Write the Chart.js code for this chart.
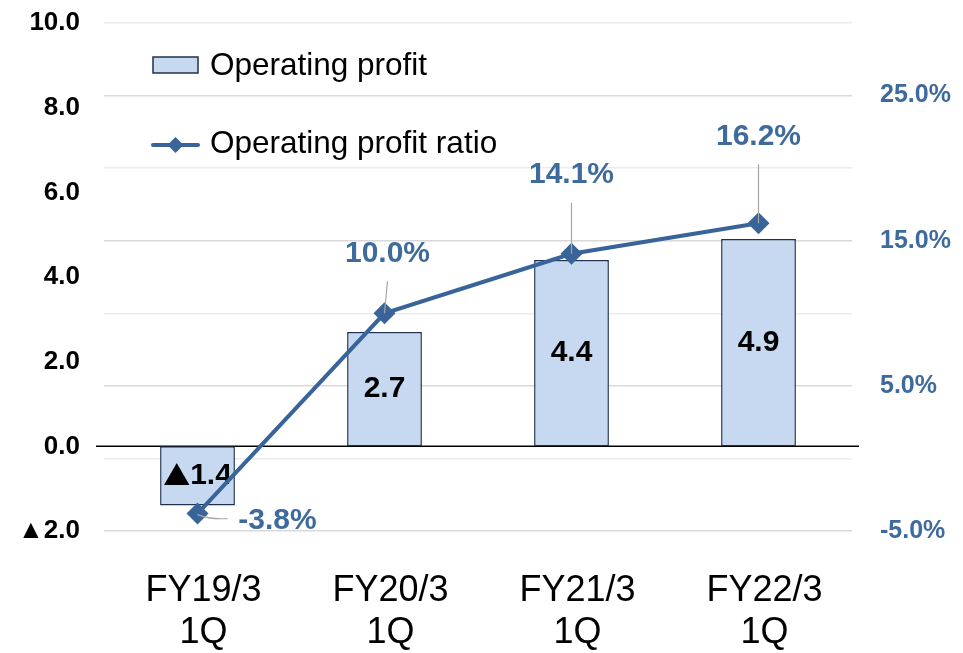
<!DOCTYPE html>
<html><head><meta charset="utf-8">
<script src="https://cdn.jsdelivr.net/npm/chart.js@4"></script>
<style>html,body{margin:0;padding:0;background:#fff;} #wrap{width:963px;height:653px;position:relative;}</style>
</head><body><div id="wrap"><canvas id="c"></canvas></div>
<script>
const categories = [['FY19/3','1Q'],['FY20/3','1Q'],['FY21/3','1Q'],['FY22/3','1Q']];
const operatingProfit = [-1.4, 2.7, 4.4, 4.9];
const operatingProfitRatio = [-3.8, 10.0, 14.1, 16.2];
const seriesNames = ['Operating profit', 'Operating profit ratio'];
const rightTickLabels = [-5, 5, 15, 25];

// label styling (offsets from point, in px)
const ratioLabelOffsets = [[80,7],[3,-60],[0,-79],[0,-87]];

const BAR_FILL = '#c6d9f0', BAR_BORDER = '#1f3050', LINE_COLOR = '#38649a', LABEL_BLUE = '#3e6a9c';
const FONT = "'Liberation Sans', Arial, sans-serif";
const TRI_FONT = "'Noto Sans CJK JP', 'DejaVu Sans', sans-serif";

function fmtTri(v){ return (v < 0 ? '\u25B2' : '') + Math.abs(v).toFixed(1); }

const zeroLine = {
  id:'zeroLine',
  beforeDatasetsDraw(chart){
    const {ctx, chartArea} = chart; const y = chart.scales.y.getPixelForValue(0);
    ctx.save(); ctx.strokeStyle = '#000'; ctx.lineWidth = 1.5;
    ctx.beginPath(); ctx.moveTo(chartArea.left - 8, y); ctx.lineTo(chartArea.right + 7, y); ctx.stroke(); ctx.restore();
  }
};

const labels = {
  id:'labels',
  afterDatasetDraw(chart, args){
    const ctx = chart.ctx;
    if (args.index === 1) { // bar dataset
      const meta = chart.getDatasetMeta(1);
      ctx.save(); ctx.fillStyle = '#000'; ctx.textBaseline = 'middle'; ctx.textAlign = 'left';
      meta.data.forEach((el, i) => {
        const v = operatingProfit[i];
        const num = Math.abs(v).toFixed(1);
        const cy = (el.y + el.base) / 2;
        ctx.font = 'bold 30px ' + FONT; const wNum = ctx.measureText(num).width;
        let wTri = 0;
        if (v < 0) { ctx.font = 'bold 27px ' + TRI_FONT; wTri = ctx.measureText('\u25B2').width; }
        let x = el.x - (wNum + wTri) / 2;
        if (v < 0) { ctx.font = 'bold 27px ' + TRI_FONT; ctx.fillText('\u25B2', x, cy); x += wTri; }
        ctx.font = 'bold 30px ' + FONT; ctx.fillText(num, x, cy);
      });
      ctx.restore();
    }
  },
  afterDatasetsDraw(chart){
    const ctx = chart.ctx; const meta = chart.getDatasetMeta(0);
    ctx.save();
    meta.data.forEach((el, i) => {
      const [dx, dy] = ratioLabelOffsets[i];
      const lx = el.x + dx, ly = el.y + dy;
      ctx.strokeStyle = '#a6a6a6'; ctx.lineWidth = 1.2;
      ctx.beginPath();
      if (dy > 0 && Math.abs(dx) > 20) {
        ctx.moveTo(el.x, el.y + 1);
        ctx.quadraticCurveTo(el.x + 12, el.y + 6, lx - 50, ly - 2);
      } else {
        ctx.moveTo(lx, ly + 28); ctx.lineTo(el.x, el.y);
      }
      ctx.stroke();
      ctx.font = 'bold 30px ' + FONT; ctx.fillStyle = LABEL_BLUE;
      ctx.textAlign = 'center'; ctx.textBaseline = 'middle';
      ctx.fillText(operatingProfitRatio[i].toFixed(1) + '%', lx, ly);
    });
    ctx.restore();
  },
  afterDraw(chart){
    const ctx = chart.ctx; ctx.save();
    // legend
    ctx.fillStyle = BAR_FILL; ctx.strokeStyle = BAR_BORDER; ctx.lineWidth = 1.5;
    ctx.fillRect(153, 57, 45, 16); ctx.strokeRect(153, 57, 45, 16);
    ctx.strokeStyle = LINE_COLOR; ctx.lineWidth = 4; ctx.lineCap = 'round';
    ctx.beginPath(); ctx.moveTo(153, 145); ctx.lineTo(198, 145); ctx.stroke();
    ctx.fillStyle = LINE_COLOR; ctx.beginPath();
    ctx.moveTo(175.5, 137); ctx.lineTo(183.5, 145); ctx.lineTo(175.5, 153); ctx.lineTo(167.5, 145); ctx.closePath(); ctx.fill();
    ctx.font = '31.5px ' + FONT; ctx.fillStyle = '#000'; ctx.textAlign = 'left'; ctx.textBaseline = 'middle';
    ctx.fillText(chart.data.datasets[1].label, 210, 66);
    ctx.fillText(chart.data.datasets[0].label, 210, 144);
    ctx.restore();
  }
};

new Chart(document.getElementById('c'), {
  data: {
    labels: categories,
    datasets: [
      { type:'line', label: seriesNames[1], data: operatingProfitRatio, yAxisID:'y1',
        borderColor: LINE_COLOR, borderWidth: 4, tension: 0,
        pointStyle:'rectRot', pointRadius: 11, pointBackgroundColor: LINE_COLOR, pointBorderWidth: 0 },
      { type:'bar', label: seriesNames[0], data: operatingProfit, yAxisID:'y',
        backgroundColor: BAR_FILL, borderColor: BAR_BORDER, borderWidth: 1.5, borderSkipped: false,
        categoryPercentage: 0.4, barPercentage: 1 }
    ]
  },
  options: {
    responsive: true, maintainAspectRatio: false, animation: false,
    layout: { padding: { top: 23, left: 0, right: 0, bottom: 0 } },
    plugins: { legend: { display: false }, tooltip: { enabled: false } },
    scales: {
      x: { grid: { display: false, drawTicks: false }, border: { display: false },
           ticks: { color:'#000', padding: 39, labelOffset: 6, font: { family: FONT, size: 36, lineHeight: '42px' }, maxRotation: 0 },
           afterFit: s => { s.height = 122; } },
      y: { position:'left', min: -2, max: 10,
           grid: { display: false, drawTicks: true, tickLength: 24 }, border: { display: false },
           ticks: { stepSize: 2, color:'#000', padding: 0, font: { family: FONT, size: 26, weight:'bold' }, callback: v => fmtTri(v) },
           afterFit: s => { s.width = 104; } },
      y1: { position:'right', min: -5, max: 30,
           grid: { drawTicks: true, tickLength: 28, tickColor: 'rgba(0,0,0,0)',
                   color: ctx => rightTickLabels.includes(ctx.tick.value) ? '#d9d9d9' : '#ececec', lineWidth: 1.5 },
           border: { display: false },
           ticks: { stepSize: 5, color: LABEL_BLUE, padding: 0, font: { family: FONT, size: 25, weight:'bold' },
                    callback: v => rightTickLabels.includes(v) ? v.toFixed(1) + '%' : '' },
           afterFit: s => { s.width = 111; } }
    }
  },
  plugins: [zeroLine, labels]
});
</script></body></html>
